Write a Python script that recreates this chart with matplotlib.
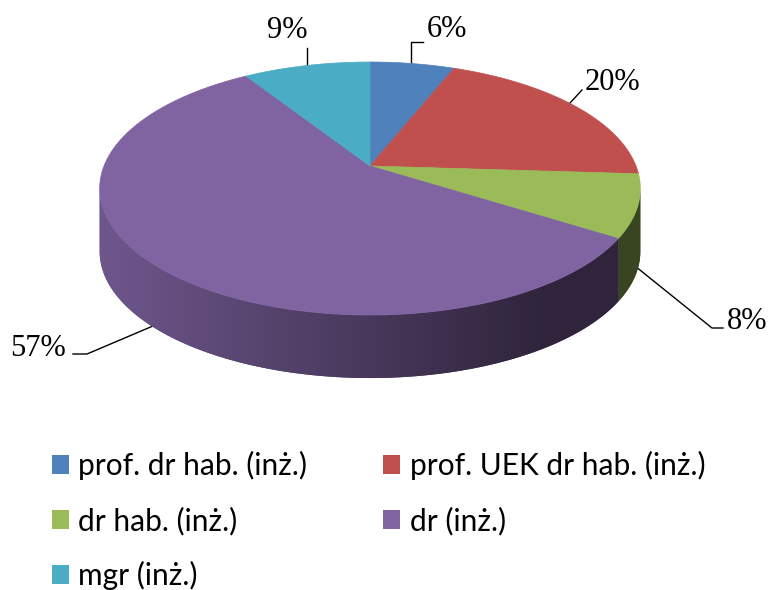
import numpy as np
import matplotlib
matplotlib.use('Agg')
import matplotlib.pyplot as plt
from matplotlib.patches import Polygon, Patch
from matplotlib.colors import to_rgb

labels = ['prof. dr hab. (inż.)', 'prof. UEK dr hab. (inż.)', 'dr hab. (inż.)', 'dr (inż.)', 'mgr (inż.)']
shares = [6, 20, 8, 57, 9]
colors = ['#4f81bd', '#c0504d', '#9bbb59', '#8064a2', '#4bacc6']

# tilted disc, everything in pixel units (y down)
CX, CY = 370, 166          # apex of the slices
A, S, K = 266, 122.5, 0.178  # half width, half depth, perspective
DEPTH = 63


def proj(theta, drop=0.0):
    th = np.radians(theta)
    sx, dz = np.sin(th), np.cos(th)
    w = 1 + K * dz
    return CX + A * sx / w, CY - S * dz / w + drop


def side_shade(color, x):
    # light comes from the left: the wall darkens towards the right
    t = np.clip((np.asarray(x, dtype=float) - 103) / (540 - 103), 0, 1)
    f = 0.86 - 0.49 * t
    return np.outer(f, to_rgb(color))


fig = plt.figure(figsize=(7.69, 5.90), dpi=100)
ax = fig.add_axes([0, 0, 1, 1])
ax.axis('off')

edges = np.concatenate([[0], np.cumsum(shares)]) / sum(shares) * 360
vis_lo = np.degrees(np.arccos(-K))
vis_hi = 360 - vis_lo

# side wall (only the front part is visible), gradient clipped to each slice
for i in range(len(shares)):
    lo, hi = max(edges[i], vis_lo), min(edges[i + 1], vis_hi)
    if hi <= lo:
        continue
    th = np.linspace(lo, hi, int((hi - lo) * 3) + 2)
    xs, ys = proj(th)
    pts = np.column_stack([np.r_[xs, xs[::-1]], np.r_[ys, ys[::-1] + DEPTH]])
    wall = Polygon(pts, closed=True, fc=side_shade(colors[i], [xs.mean()])[0],
                   ec='none', zorder=2)
    ax.add_patch(wall)
    x0, x1 = xs.min() - 1, xs.max() + 1
    gx = np.linspace(x0, x1, 300)
    img = side_shade(colors[i], gx)[np.newaxis, :, :]
    im = ax.imshow(img, extent=(x0, x1, ys.max() + DEPTH + 1, ys.min() - 1),
                   aspect='auto', interpolation='bilinear', zorder=2.1)
    im.set_clip_path(wall)

# top face
for i in range(len(shares)):
    th = np.linspace(edges[i], edges[i + 1], int((edges[i + 1] - edges[i]) * 2) + 2)
    xs, ys = proj(th)
    pts = np.column_stack([np.r_[CX, xs], np.r_[CY, ys]])
    ax.add_patch(Polygon(pts, closed=True, fc=colors[i], ec=colors[i], lw=0.5, zorder=3))

# data labels with leader lines (layout taken from the original)
leaders = [
    [(411, 63), (411, 42), (423, 42)],
    [(570, 103), (582, 90)],
    [(630, 262), (712, 328), (723, 328)],
    [(160, 323), (87, 354), (73, 354)],
    [(307, 67), (307, 48)],
]
text_pos = [(427, 37, 'left'), (585, 90, 'left'), (727, 329, 'left'),
            (66, 356, 'right'), (308, 38, 'right')]
for i, v in enumerate(shares):
    lx, ly = zip(*leaders[i])
    ax.plot(lx, ly, color='black', lw=1.0, zorder=1)
    x, y, ha = text_pos[i]
    ax.text(x, y, f'{v}%', ha=ha, va='baseline', fontsize=22,
            family='Liberation Serif', color='black')

ax.set_xlim(0, 769)
ax.set_ylim(590, 0)

# legend, filled row by row like the original
order = [0, 2, 4, 1, 3]
handles = [Patch(facecolor=colors[i], label=labels[i]) for i in order]
fig.legend(handles=handles, loc='upper left', bbox_to_anchor=(52 / 769, 1 - 451 / 590),
           ncol=2, frameon=False, prop={'family': 'Lato', 'size': 21.5},
           handlelength=0.57, handleheight=0.6, handletextpad=0.31,
           labelspacing=0.88, columnspacing=2.55, borderpad=0, borderaxespad=0)

plt.savefig('out.png', dpi=100)
